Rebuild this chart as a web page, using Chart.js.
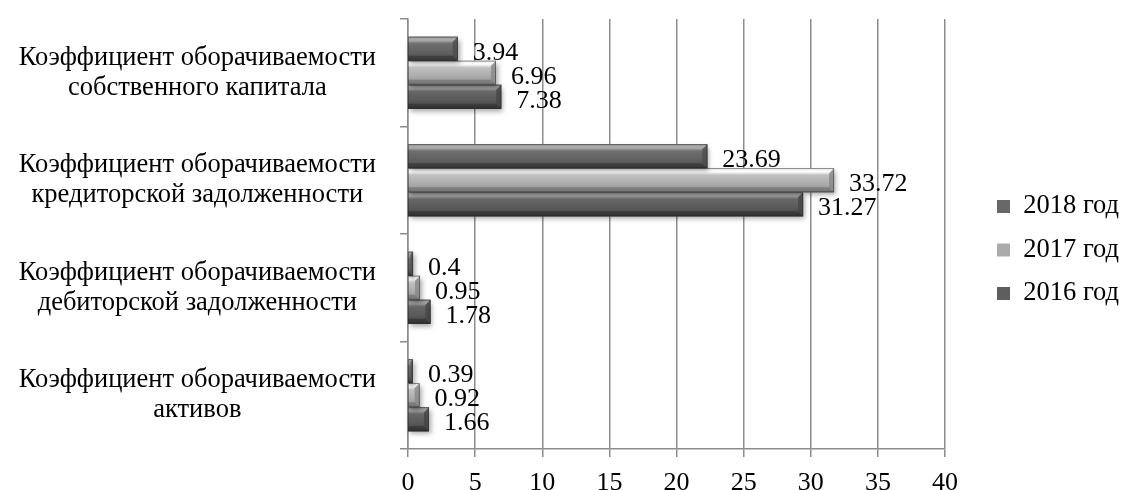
<!DOCTYPE html>
<html lang="ru">
<head>
<meta charset="utf-8">
<title>Коэффициенты оборачиваемости</title>
<script src="https://cdn.jsdelivr.net/npm/chart.js@4/dist/chart.umd.min.js"></script>
<style>
  html, body { margin: 0; padding: 0; background: #fff; }
  #wrap { width: 1122px; height: 490px; position: relative; }
</style>
</head>
<body>
<div id="wrap"><canvas id="turnoverChart"></canvas></div>
<script>
// ─── DATA ──────────────────────────────────────────────────
const categories = [
  ['Коэффициент оборачиваемости', 'собственного капитала'],
  ['Коэффициент оборачиваемости', 'кредиторской задолженности'],
  ['Коэффициент оборачиваемости', 'дебиторской задолженности'],
  ['Коэффициент оборачиваемости', 'активов']
];
const seriesNames = ['2018 год', '2017 год', '2016 год'];
const values2018 = [3.94, 23.69, 0.4, 0.39];
const values2017 = [6.96, 33.72, 0.95, 0.92];
const values2016 = [7.38, 31.27, 1.78, 1.66];
const xTickMin = 0;
const xTickMax = 40;
const xTickStep = 5;

// ─── STYLE ─────────────────────────────────────────────────
const FONT = "'Liberation Serif', 'Times New Roman', serif";
const GRID = '#8c8c8c';
// flat colours (legend) and bevel shades for each series
const SHADES = [
  { flat: '#686868', stops: ['#808080', '#a4a4a4', '#6e6e6e', '#5e5e5e', '#4c4c4c', '#383838'], hi: '#b0b0b0', lo: '#333333', cap: '#4e4e4e' },
  { flat: '#ababab', stops: ['#d6d6d6', '#f8f8f8', '#c0c0c0', '#a8a8a8', '#949494', '#727272'], hi: '#ffffff', lo: '#6a6a6a', cap: '#888888' },
  { flat: '#5e5e5e', stops: ['#787878', '#9c9c9c', '#666666', '#575757', '#464646', '#313131'], hi: '#a8a8a8', lo: '#2e2e2e', cap: '#454545' }
];

// ─── BEVELLED BARS + VALUE LABELS ──────────────────────────
const bevelBars = {
  id: 'bevelBars',
  afterDatasetsDraw(chart) {
    const ctx = chart.ctx;
    // draw from the last series up so the top bar sits over the shadows
    for (let di = chart.data.datasets.length - 1; di >= 0; di--) {
      const meta = chart.getDatasetMeta(di);
      const s = SHADES[di];
      meta.data.forEach(bar => {
        const { x, y, base, height } = bar.getProps(['x', 'y', 'base', 'height'], true);
        const left = Math.min(base, x), right = Math.max(base, x);
        const top = y - height / 2, bottom = y + height / 2;
        const w = right - left;
        const b = Math.min(5, w / 2, height / 4);

        const g = ctx.createLinearGradient(0, top, 0, bottom);
        [0, 0.12, 0.3, 0.7, 0.88, 1].forEach((p, k) => g.addColorStop(p, s.stops[k]));

        ctx.save();
        ctx.shadowColor = 'rgba(0,0,0,0.35)';
        ctx.shadowBlur = 5;
        ctx.shadowOffsetX = 2;
        ctx.shadowOffsetY = 3;
        ctx.fillStyle = g;
        ctx.fillRect(left, top, w, height);
        ctx.restore();

        ctx.save();
        ctx.globalAlpha = 0.55;
        ctx.fillStyle = s.hi;
        ctx.beginPath();
        ctx.moveTo(left, top); ctx.lineTo(right, top);
        ctx.lineTo(right - b, top + b); ctx.lineTo(left, top + b);
        ctx.closePath(); ctx.fill();
        ctx.fillStyle = s.lo;
        ctx.beginPath();
        ctx.moveTo(left, bottom); ctx.lineTo(right, bottom);
        ctx.lineTo(right - b, bottom - b); ctx.lineTo(left, bottom - b);
        ctx.closePath(); ctx.fill();
        ctx.globalAlpha = 0.8;
        ctx.fillStyle = s.cap;
        ctx.beginPath();
        ctx.moveTo(right, top); ctx.lineTo(right, bottom);
        ctx.lineTo(right - b, bottom - b); ctx.lineTo(right - b, top + b);
        ctx.closePath(); ctx.fill();
        ctx.globalAlpha = 1;
        ctx.strokeStyle = 'rgba(40,40,40,0.6)';
        ctx.lineWidth = 0.8;
        ctx.strokeRect(left + 0.4, top + 0.4, w - 0.8, height - 0.8);
        ctx.restore();
      });
    }

    ctx.save();
    ctx.fillStyle = '#000';
    ctx.font = '26px ' + FONT;
    ctx.textAlign = 'left';
    ctx.textBaseline = 'middle';
    chart.data.datasets.forEach((ds, di) => {
      chart.getDatasetMeta(di).data.forEach((bar, i) => {
        const { x, y } = bar.getProps(['x', 'y'], true);
        ctx.fillText(String(ds.data[i]), x + 15, y + 4);
      });
    });
    ctx.restore();
  }
};

// ─── CHART ─────────────────────────────────────────────────
Chart.defaults.font.family = FONT;
Chart.defaults.font.size = 26;
Chart.defaults.color = '#000';

const seriesValues = [values2018, values2017, values2016];

new Chart(document.getElementById('turnoverChart'), {
  type: 'bar',
  data: {
    labels: categories,
    datasets: seriesNames.map((name, i) => ({
      label: name,
      data: seriesValues[i],
      xAxisID: 'xBars',
      backgroundColor: SHADES[i].flat,
      borderWidth: 0,
      categoryPercentage: 0.67,
      barPercentage: 1.0
    }))
  },
  options: {
    indexAxis: 'y',
    responsive: true,
    maintainAspectRatio: false,
    animation: false,
    layout: { padding: { top: 10, right: 0, bottom: 0, left: 0 } },
    plugins: {
      tooltip: { enabled: false },
      legend: {
        position: 'right',
        maxWidth: 142,
        labels: {
          boxWidth: 13,
          boxHeight: 13,
          padding: 17,
          color: '#000',
          font: { size: 26.5, family: FONT }
        }
      }
    },
    scales: {
      // visible value axis 0..40
      x: {
        type: 'linear',
        position: 'bottom',
        min: xTickMin,
        max: xTickMax,
        ticks: { stepSize: xTickStep, padding: 11, color: '#000', font: { size: 26 } },
        grid: { color: GRID, lineWidth: 1.5, tickLength: 8 },
        border: { color: GRID, width: 1.5 },
        afterFit: s => { s.height = 41; }
      },
      // bars are drawn on a slightly longer hidden scale (3-D perspective of the original)
      xBars: {
        type: 'linear',
        display: false,
        min: 0,
        max: 42.5
      },
      y: {
        type: 'category',
        position: 'left',
        ticks: { padding: 24, crossAlign: 'center', color: '#000', font: { size: 26.5, lineHeight: 1.13 } },
        grid: { drawOnChartArea: false, color: GRID, lineWidth: 1.5, tickLength: 8, offset: true },
        border: { color: GRID, width: 1.5 },
        afterFit: s => { s.width = 408; s.paddingTop = 19; s.paddingBottom = 0; }
      },
      // spacer between plot and legend
      gap: {
        type: 'linear',
        position: 'right',
        ticks: { display: false },
        grid: { display: false },
        border: { display: false },
        afterFit: s => { s.width = 35; s.paddingTop = 0; s.paddingBottom = 0; }
      }
    }
  },
  plugins: [bevelBars]
});
</script>
</body>
</html>
